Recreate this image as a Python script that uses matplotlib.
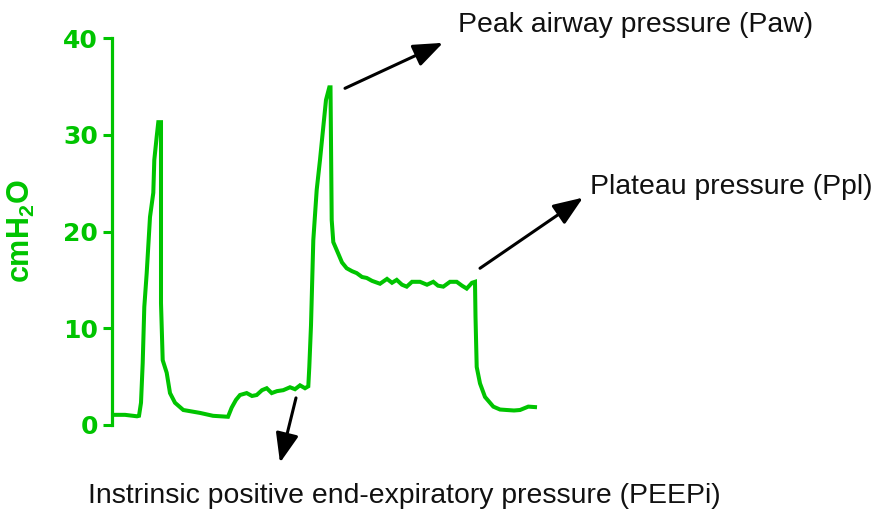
import matplotlib
matplotlib.use("Agg")
import matplotlib.pyplot as plt

plt.rcParams['font.family'] = ['Liberation Sans', 'DejaVu Sans']
plt.rcParams['mathtext.fontset'] = 'custom'
plt.rcParams['mathtext.rm'] = 'Liberation Sans:bold'
plt.rcParams['mathtext.bf'] = 'Liberation Sans:bold'

# Pressure trace (time in s, pressure in cmH2O)
time_s = [0.01, 0.13, 0.25, 0.27, 0.29, 0.307, 0.323, 0.347, 0.38, 0.413, 0.423,
          0.447, 0.463, 0.49, 0.49, 0.507, 0.547, 0.58, 0.63, 0.713, 0.88, 1.01,
          1.16, 1.197, 1.24, 1.28, 1.347, 1.40, 1.447, 1.50, 1.547, 1.597, 1.65,
          1.713, 1.78, 1.83, 1.88, 1.93, 1.963, 1.973, 1.99, 2.013, 2.047, 2.08,
          2.107, 2.14, 2.173, 2.185, 2.197, 2.213, 2.263, 2.30, 2.347, 2.40, 2.447,
          2.50, 2.547, 2.60, 2.68, 2.75, 2.80, 2.847, 2.90, 2.947, 3.00, 3.08,
          3.15, 3.213, 3.26, 3.313, 3.38, 3.447, 3.50, 3.547, 3.60, 3.63, 3.635,
          3.647, 3.68, 3.73, 3.813, 3.88, 3.947, 4.02, 4.08, 4.163, 4.23]
pressure = [1.05, 1.05, 0.9, 0.95, 2.3, 6.4, 12.2, 15.7, 21.5, 24.0, 27.4,
            29.8, 31.3, 31.3, 12.6, 6.7, 5.4, 3.3, 2.3, 1.55, 1.25, 0.95,
            0.85, 1.8, 2.6, 3.1, 3.3, 3.0, 3.1, 3.6, 3.8, 3.3, 3.5,
            3.6, 3.9, 3.7, 4.1, 3.8, 4.0, 6.0, 10.3, 19.1, 24.3, 27.4,
            30.2, 33.6, 34.9, 34.9, 21.2, 18.9, 17.7, 16.8, 16.2, 15.9, 15.7,
            15.3, 15.2, 14.9, 14.6, 15.1, 14.7, 15.0, 14.5, 14.3, 14.8, 14.8,
            14.5, 14.8, 14.4, 14.3, 14.8, 14.8, 14.4, 14.1, 14.7, 14.8, 11.2,
            6.0, 4.3, 2.9, 1.9, 1.6, 1.55, 1.5, 1.55, 1.9, 1.85]

y_ticks = [0, 10, 20, 30, 40]
y_label = r'cmH$\mathbf{_2}$O'

# Annotations: (text, text position, arrow tail, arrow tip)
ann_peak_text = "Peak airway pressure (Paw)"
ann_peak_pos = (3.46, 41.3)
ann_peak_arrow = ((2.33, 34.8), (3.31, 39.5))
ann_plat_text = "Plateau pressure (Ppl)"
ann_plat_pos = (4.78, 24.6)
ann_plat_arrow = ((3.68, 16.2), (4.71, 23.5))
ann_peep_text = "Instrinsic positive end-expiratory pressure (PEEPi)"
ann_peep_pos = (2.92, -7.3)
ann_peep_arrow = ((1.84, 2.8), (1.68, -3.9))

GREEN = '#00c400'

fig = plt.figure(figsize=(8.71, 5.09), dpi=100)
ax = fig.add_axes([112/871, (509-425)/509, 1 - 112/871, (425-38)/509])
ax.plot(time_s, pressure, color=GREEN, lw=2.9, solid_joinstyle='miter', clip_on=False)
ax.set_xlim(0, 7.59)
ax.set_ylim(0, 40)
ax.set_yticks(y_ticks)
for s in ['top', 'right', 'bottom']:
    ax.spines[s].set_visible(False)
ax.spines['left'].set_color(GREEN)
ax.spines['left'].set_linewidth(2.3)
ax.set_xticks([])
ax.tick_params(axis='y', colors=GREEN, length=6.5, width=2.2, pad=3.5)
for lbl in ax.get_yticklabels():
    lbl.set_fontfamily('DejaVu Sans')
    lbl.set_fontweight('bold')
    lbl.set_fontsize(18)
ax.set_ylabel(y_label, color=GREEN, fontsize=22, fontweight='bold')
ax.yaxis.label.set_verticalalignment('center')
ax.yaxis.set_label_coords((21.5 - 112) / 759, (425 - 231) / 387)

arrow_kw = dict(arrowstyle='-|>,head_length=0.9,head_width=0.35', color='black',
                lw=2.2, mutation_scale=20, shrinkA=0, shrinkB=0)
for tail, tip in [ann_peak_arrow, ann_plat_arrow, ann_peep_arrow]:
    ax.annotate('', xy=tip, xytext=tail, xycoords='data', textcoords='data',
                arrowprops=arrow_kw, annotation_clip=False)

txt_kw = dict(fontsize=20.4, color='#111111', clip_on=False)
ax.text(*ann_peak_pos, ann_peak_text, ha='left', va='center', **txt_kw)
ax.text(*ann_plat_pos, ann_plat_text, ha='left', va='center', **txt_kw)
ax.text(*ann_peep_pos, ann_peep_text, ha='center', va='center', **txt_kw)

fig.savefig('out.png', dpi=100)
